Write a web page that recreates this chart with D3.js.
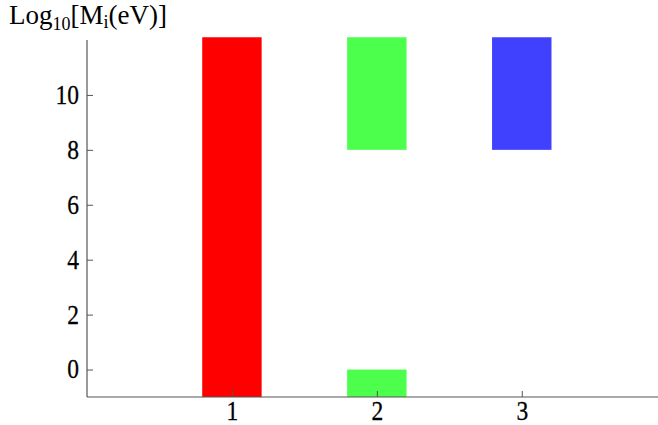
<!DOCTYPE html>
<html>
<head>
<meta charset="utf-8">
<script src="https://d3js.org/d3.v7.min.js"></script>
<style>
  html, body { margin: 0; padding: 0; background: #fff; }
  svg { display: block; }
</style>
</head>
<body>
<svg id="chart" width="658" height="425"></svg>
<script>
// categories on the x axis and the colour of each
const categories = [1, 2, 3];
const categoryColors = ["#ff0000", "#4dff4d", "#4040ff"];

// each bar segment: which category, where it starts and ends (log10 eV)
const segCategory = [1, 2, 2, 3];
const segLow      = [-1, -1, 8, 8];
const segHigh     = [12.1, 0, 12.1, 12.1];

const xTickValues = [1, 2, 3];
const yTickValues = [0, 2, 4, 6, 8, 10];

const plotLeft = 87, plotRight = 658, plotTop = 40, plotBottom = 397;
const barHalf = 0.205;
const serif = '"Liberation Serif", "Times New Roman", serif';
const squeeze = 0.84; // the original digits are narrower than Liberation's

const svg = d3.select('#chart');

const x = d3.scaleLinear().domain([0, 3.94]).range([plotLeft, plotRight]);
const y = d3.scaleLinear().domain([-1, 12]).range([plotBottom, plotTop]);
const color = d3.scaleOrdinal().domain(categories).range(categoryColors);

const segments = segCategory.map((c, i) => ({c: c, lo: segLow[i], hi: segHigh[i]}));

svg.append('g')
    .selectAll('rect')
    .data(segments)
    .join('rect')
    .attr('x', d => x(d.c - barHalf))
    .attr('width', d => x(d.c + barHalf) - x(d.c - barHalf))
    .attr('y', d => y(d.hi))
    .attr('height', d => y(d.lo) - y(d.hi))
    .attr('fill', d => color(d.c));

// axes, ticks pointing into the plot
const axisColor = '#555';

const gx = svg.append('g')
    .attr('transform', `translate(0,${plotBottom})`)
    .call(d3.axisBottom(x).tickValues(xTickValues).tickSize(-6).tickPadding(0).tickFormat(d3.format('d')));
gx.select('.domain').attr('d', `M${plotLeft},0H${plotRight}`);

const gy = svg.append('g')
    .attr('transform', `translate(${plotLeft},0)`)
    .call(d3.axisLeft(y).tickValues(yTickValues).tickSize(-6).tickPadding(8).tickFormat(d3.format('d')));
gy.select('.domain').attr('d', `M0,${plotTop}V${plotBottom}`);

// d3 writes its own font attributes on the axis groups; replace them
[gx, gy].forEach(g => g.attr('font-family', serif).attr('font-size', 28));

svg.selectAll('.domain').attr('stroke', axisColor).attr('stroke-width', 1.2);
svg.selectAll('.tick line').attr('stroke', axisColor);
svg.selectAll('.tick text')
    .attr('fill', '#000')
    .attr('stroke', '#000')
    .attr('stroke-width', 0.3);
gx.selectAll('.tick text')
    .attr('x', 0).attr('y', 0).attr('dy', 0)
    .attr('transform', `translate(0,23) scale(${squeeze},1)`);
gy.selectAll('.tick text')
    .attr('x', 0)
    .attr('dy', '0.3em')
    .attr('transform', `translate(-8,0) scale(${squeeze},1)`);

// axis title with subscripts
const title = svg.append('text')
    .attr('x', 9)
    .attr('y', 24)
    .attr('font-family', serif)
    .attr('font-size', 27);
title.append('tspan').text('Log');
title.append('tspan').attr('font-size', 18).attr('dy', 6).text('10');
title.append('tspan').attr('dy', -6).text('[M');
title.append('tspan').attr('font-size', 18).attr('dy', 4).text('i');
title.append('tspan').attr('dy', -4).text('(eV)]');
</script>
</body>
</html>
